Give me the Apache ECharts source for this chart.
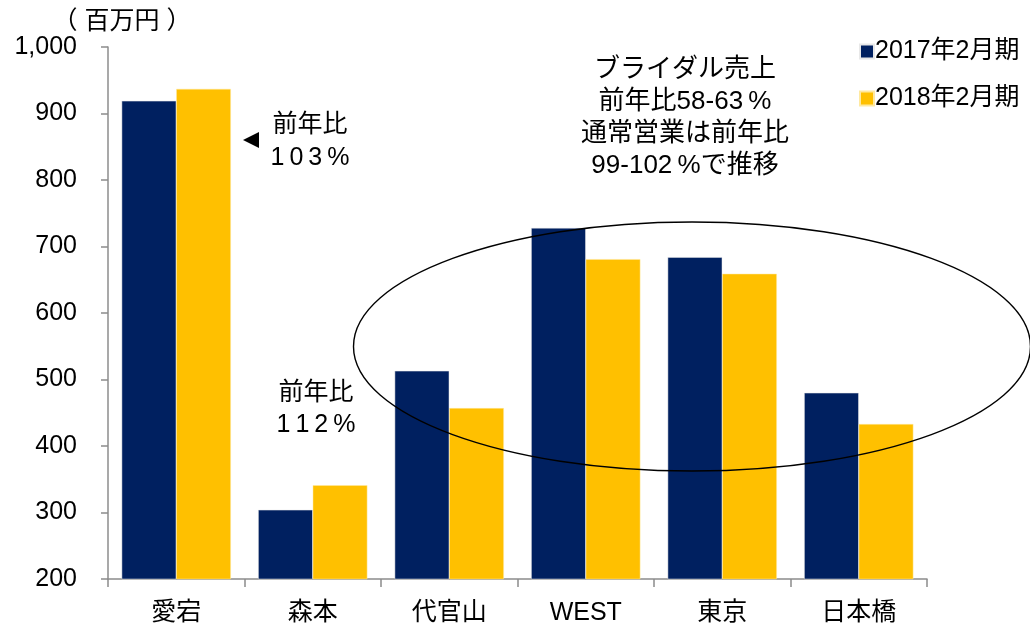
<!DOCTYPE html>
<html><head><meta charset="utf-8">
<script src="https://cdn.jsdelivr.net/npm/echarts@6/dist/echarts.min.js"></script>
<style>html,body{margin:0;padding:0;background:#fff}#c{width:1030px;height:627px}</style>
</head><body><div id="c"></div>
<script>
const categories = ['愛宕','森本','代官山','WEST','東京','日本橋'];
const seriesNames = ['2017年2月期','2018年2月期'];
const values2017 = [919, 304, 513, 728, 684, 480];
const values2018 = [937, 341, 457, 681, 659, 433];
const yTicks = [200, 1000, 100];
const FONT = '"Liberation Sans", Arial, "Noto Sans CJK JP", sans-serif';
const TS = '\u2009';
const chart = echarts.init(document.getElementById('c'));
chart.setOption({
  animation: false,
  textStyle: { fontFamily: FONT },
  grid: { left: 108, right: 103, top: 47, bottom: 48 },
  legend: {
    orient: 'vertical', left: 854, top: 34, itemWidth: 14, itemHeight: 14, itemGap: 22,
    icon: 'rect',
    textStyle: { fontSize: 25, color: '#000', fontFamily: FONT, padding: [0,0,0,-4] },
    data: seriesNames
  },
  xAxis: {
    type: 'category', data: categories,
    axisLine: { lineStyle: { color: '#8c8c8c', width: 1.5 } },
    axisTick: { show: true, length: 8, lineStyle: { color: '#8c8c8c', width: 1.5 } },
    axisLabel: { fontSize: 25, color: '#000', margin: 22, fontFamily: FONT }
  },
  yAxis: {
    type: 'value', min: yTicks[0], max: yTicks[1], interval: yTicks[2],
    axisLine: { show: true, lineStyle: { color: '#8c8c8c', width: 1.5 } },
    axisTick: { show: true, length: 7, inside: false, lineStyle: { color: '#8c8c8c', width: 1.5 } },
    splitLine: { show: false },
    axisLabel: { fontSize: 25, color: '#000', margin: 31, fontFamily: FONT,
      formatter: v => v.toLocaleString('en-US') }
  },
  series: [
    { name: seriesNames[0], type: 'bar', data: values2017, barGap: '0%', barCategoryGap: '20%',
      itemStyle: { color: '#002060', borderColor: '#e8e8e8', borderWidth: 0.5 } },
    { name: seriesNames[1], type: 'bar', data: values2018,
      itemStyle: { color: '#FFC000', borderColor: '#ffe9a0', borderWidth: 0.5 } }
  ],
  graphic: [
    { type: 'text', x: 122, y: 22, style: { text: '（ 百万円 ）', fill: '#000', align: 'center', verticalAlign: 'middle', font: '25px ' + FONT } },
    { type: 'polygon', shape: { points: [[243,140],[259,132],[259,148]] }, style: { fill: '#000' } },
    { type: 'text', x: 310, y: 109, style: { text: '前年比\n1' + TS + '0' + TS + '3' + TS + '%', fill: '#000', align: 'center', lineHeight: 33, font: '25px ' + FONT } },
    { type: 'text', x: 316, y: 377, style: { text: '前年比\n1' + TS + '1' + TS + '2' + TS + '%', fill: '#000', align: 'center', lineHeight: 32, font: '25px ' + FONT } },
    { type: 'text', x: 685, y: 54, style: { text: 'ブライダル売上\n前年比58-63' + TS + '%\n通常営業は前年比\n99-102' + TS + '%で推移', fill: '#000', align: 'center', lineHeight: 32, font: '26px ' + FONT } },
    { type: 'ellipse', z: 100, shape: { cx: 692, cy: 346.5, rx: 338.5, ry: 124.5 }, style: { fill: 'none', stroke: '#000', lineWidth: 1.4 } }
  ]
});
</script></body></html>
